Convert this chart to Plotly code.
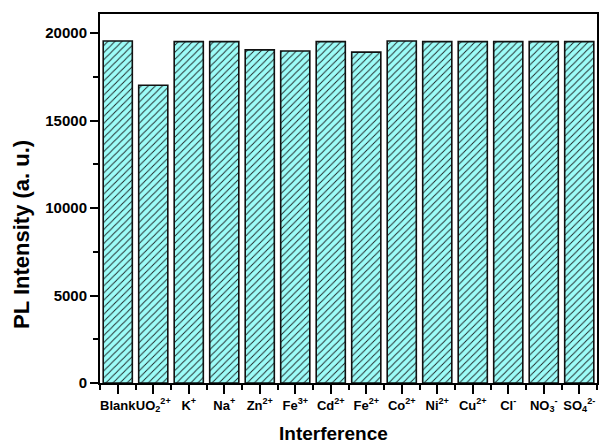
import plotly.graph_objects as go

categories = ["Blank", "UO<sub>2</sub><sup>2+</sup>", "K<sup>+</sup>", "Na<sup>+</sup>", "Zn<sup>2+</sup>",
              "Fe<sup>3+</sup>", "Cd<sup>2+</sup>", "Fe<sup>2+</sup>", "Co<sup>2+</sup>", "Ni<sup>2+</sup>",
              "Cu<sup>2+</sup>", "Cl<sup>-</sup>", "NO<sub>3</sub><sup>-</sup>", "SO<sub>4</sub><sup>2-</sup>"]
intensity = [19560, 17030, 19520, 19520, 19050, 18980, 19520, 18920, 19560, 19520, 19520, 19520, 19520, 19520]
y_ticks = [0, 5000, 10000, 15000, 20000]
x_title = "Interference"
y_title = "PL Intensity (a. u.)"

x_pos = list(range(len(categories)))

fig = go.Figure()
fig.add_trace(go.Bar(
    x=x_pos, y=intensity,
    width=0.82,
    marker=dict(
        color="#9dfcf8",
        line=dict(color="#111111", width=1.6),
        pattern=dict(shape="/", fgcolor="#1c2424", bgcolor="#9dfcf8", size=5, solidity=0.18, fillmode="replace"),
    ),
))

font_family = "Liberation Sans, Arial, sans-serif"

fig.update_layout(
    width=606, height=445,
    margin=dict(l=100, r=9, t=14, b=62, autoexpand=False),
    paper_bgcolor="white", plot_bgcolor="white",
    showlegend=False,
    font=dict(family=font_family, color="black"),
)

fig.update_xaxes(
    range=[-0.5, len(categories) - 0.5],
    tickmode="array", tickvals=x_pos, ticktext=["<b>%s</b>" % c for c in categories],
    tickangle=0,
    tickfont=dict(size=13, family=font_family, color="black"),
    ticks="outside", ticklen=9, tickwidth=1.5, tickcolor="black",
    minor=dict(tick0=-0.5, dtick=1, ticks="outside", ticklen=5, tickwidth=1.5, tickcolor="black"),
    showline=True, linecolor="black", linewidth=2, mirror=True,
    showgrid=False, zeroline=False, automargin=False,
)

fig.update_yaxes(
    range=[0, 21100],
    tickmode="array", tickvals=y_ticks, ticktext=["<b>%d</b>" % v for v in y_ticks],
    tickfont=dict(size=15, family=font_family, color="black"),
    ticks="outside", ticklen=8, tickwidth=1.5, tickcolor="black",
    minor=dict(tick0=0, dtick=2500, ticks="outside", ticklen=5, tickwidth=1.5, tickcolor="black"),
    showline=True, linecolor="black", linewidth=2, mirror=True,
    showgrid=False, zeroline=False, automargin=False,
)

fig.add_annotation(text="<b>%s</b>" % x_title, xref="paper", yref="paper",
                   x=0.47, y=-0.138, xanchor="center", yanchor="middle", showarrow=False,
                   font=dict(size=19, family=font_family, color="black"))
fig.add_annotation(text="<b>%s</b>" % y_title, xref="paper", yref="paper",
                   x=-0.157, y=0.404, xanchor="center", yanchor="middle", showarrow=False,
                   textangle=-90, font=dict(size=22, family=font_family, color="black"))

fig.write_html("out.html", config={"displayModeBar": False},
               post_script="document.body.style.margin='0';document.body.style.overflow='hidden';")
